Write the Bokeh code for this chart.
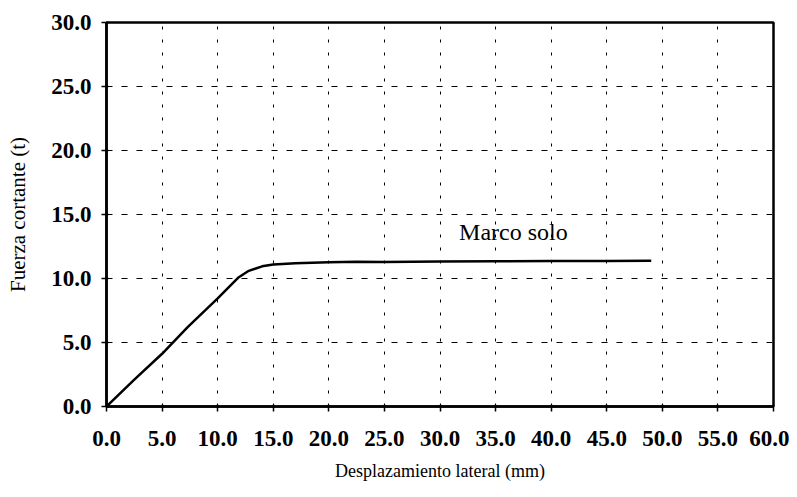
from bokeh.plotting import figure
from bokeh.models import Range1d, FixedTicker, Label
from bokeh.embed import file_html
from bokeh.resources import INLINE

# data
desplazamiento = [0.0, 2.5, 5.0, 7.3, 10.0, 11.9, 12.8, 14.0, 15.0, 17.0, 20.0, 22.5, 25.0, 30.0, 35.0, 40.0, 45.0, 49.0]
fuerza = [0.0, 2.1, 4.12, 6.2, 8.45, 10.1, 10.6, 10.95, 11.1, 11.2, 11.27, 11.3, 11.28, 11.32, 11.35, 11.36, 11.37, 11.38]
x_ticks = [0, 5, 10, 15, 20, 25, 30, 35, 40, 45, 50, 55, 60]
y_ticks = [0, 5, 10, 15, 20, 25, 30]
series_label = "Marco solo"

FONT = "Liberation Serif"

p = figure(width=789, height=489, output_backend="svg", toolbar_location=None,
           x_range=Range1d(0, 60), y_range=Range1d(0, 30),
           min_border_left=106, min_border_right=16, min_border_top=22, min_border_bottom=83)

p.line(desplazamiento, fuerza, line_color="black", line_width=2.5)

p.add_layout(Label(x=36.6, y=13.67, text=series_label, text_font=FONT, text_font_size="24px",
                   text_align="center", text_baseline="middle", text_color="black"))

for ax in (p.xaxis[0], p.yaxis[0]):
    ax.axis_line_color = "black"
    ax.axis_line_width = 2.5
    ax.major_tick_line_color = "black"
    ax.major_tick_line_width = 1.5
    ax.major_tick_out = 5
    ax.major_tick_in = 2
    ax.minor_tick_line_color = None
    ax.major_label_text_font = FONT
    ax.major_label_text_font_size = "23px"
    ax.major_label_text_font_style = "bold"
    ax.major_label_text_color = "black"
    ax.axis_label_text_font = FONT
    ax.axis_label_text_font_style = "normal"
    ax.axis_label_text_color = "black"

p.xaxis.axis_label_text_font_size = "18px"
p.yaxis.axis_label_text_font_size = "21px"
p.xaxis.ticker = FixedTicker(ticks=x_ticks)
p.yaxis.ticker = FixedTicker(ticks=y_ticks)
p.xaxis.major_label_overrides = {t: f"{t:.1f}" for t in x_ticks}
p.yaxis.major_label_overrides = {t: f"{t:.1f}" for t in y_ticks}
p.xaxis.axis_label = "Desplazamiento lateral (mm)"
p.yaxis.axis_label = "Fuerza cortante (t)"
p.xaxis.major_label_standoff = 19
p.xaxis.axis_label_standoff = 12
p.yaxis.major_label_standoff = 10
p.yaxis.axis_label_standoff = 18

p.xgrid.grid_line_color = "black"
p.xgrid.grid_line_dash = "3 10"
p.xgrid.grid_line_width = 1
p.ygrid.grid_line_color = "black"
p.ygrid.grid_line_dash = "6 9"
p.ygrid.grid_line_width = 1

p.outline_line_color = "black"
p.outline_line_width = 2.5
p.outline_line_alpha = 1
p.background_fill_color = "white"
p.border_fill_color = "white"

open("out.html", "w").write(file_html(p, INLINE))
